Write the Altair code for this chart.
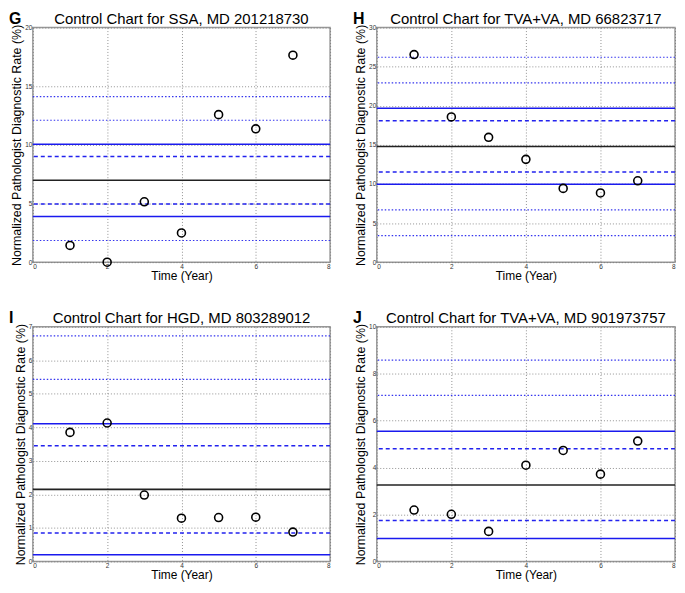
import altair as alt
import pandas as pd

years = [1, 2, 3, 4, 5, 6, 7]

# Panel G
g_rate = [1.43, 0.0, 5.15, 2.49, 12.58, 11.37, 17.65]
g_center = [6.98]
g_solid = [10.05, 3.9]
g_dashed = [9.02, 4.96]
g_dotted = [14.12, 12.1, 1.85]

# Panel H
h_rate = [26.55, 18.58, 15.97, 13.15, 9.44, 8.85, 10.41]
h_center = [14.8]
h_solid = [19.68, 9.97]
h_dashed = [18.08, 11.55]
h_dotted = [26.21, 22.92, 6.70, 3.41]

# Panel I
i_rate = [3.85, 4.13, 1.98, 1.29, 1.31, 1.32, 0.875]
i_center = [2.15]
i_solid = [4.11, 0.20]
i_dashed = [3.45, 0.85]
i_dotted = [6.73, 5.43]

# Panel J
j_rate = [2.19, 2.01, 1.28, 4.10, 4.73, 3.72, 5.13]
j_center = [3.26]
j_solid = [5.55, 0.98]
j_dashed = [4.80, 1.74]
j_dotted = [8.58, 7.08]

x_ticks = [0, 2, 4, 6, 8]

H = 236
FONT = "Liberation Sans"
YTITLE = "Normalized Pathologist Diagnostic Rate (%)"


def panel(letter, title, rate, center, solid, dashed, dotted, ymax, ystep, w):
    yticks = list(range(0, ymax + 1, ystep))
    xs = alt.Scale(domain=[0, 8], nice=False)
    ys = alt.Scale(domain=[0, ymax], nice=False)
    yaxis = alt.Axis(values=yticks, format="d", titleFontSize=12.5)
    pts = pd.DataFrame({"year": years, "rate": rate})

    def rules(vals, color, dash, sw):
        df = pd.DataFrame({"v": vals})
        kw = dict(color=color, strokeWidth=sw)
        if dash:
            kw["strokeDash"] = dash
        return alt.Chart(df).mark_rule(**kw).encode(
            y=alt.Y("v:Q", scale=ys, title=YTITLE, axis=yaxis)
        )

    base = alt.Chart(pts).mark_point(
        shape="circle", filled=False, color="black", size=64, strokeWidth=1.6, opacity=1
    ).encode(
        x=alt.X("year:Q", scale=xs, title="Time (Year)",
                axis=alt.Axis(values=x_ticks, format="d")),
        y=alt.Y("rate:Q", scale=ys, title=YTITLE, axis=yaxis),
    )

    lab = alt.Chart(pd.DataFrame({"t": [letter]})).mark_text(
        fontSize=16, fontWeight="bold", font=FONT, align="left", baseline="top",
        color="black"
    ).encode(text="t:N", x=alt.value(-24), y=alt.value(-17))

    layers = [
        rules(dotted, "#3333ee", [1.5, 2], 1.2),
        rules(dashed, "#2222ee", [4, 3], 1.5),
        rules(solid, "#1a1aee", None, 1.6),
        rules(center, "#222222", None, 1.6),
        base,
        lab,
    ]
    return alt.layer(*layers).properties(
        width=w, height=H,
        title=alt.TitleParams(title, fontSize=15, font=FONT, fontWeight="normal",
                              offset=-16, color="black"),
    )


g = panel("G", "Control Chart for SSA, MD 201218730", g_rate, g_center, g_solid, g_dashed, g_dotted, 20, 5, 299)
h = panel("H", "Control Chart for TVA+VA, MD 66823717", h_rate, h_center, h_solid, h_dashed, h_dotted, 30, 5, 300)
i = panel("I", "Control Chart for HGD, MD 803289012", i_rate, i_center, i_solid, i_dashed, i_dotted, 7, 1, 299)
j = panel("J", "Control Chart for TVA+VA, MD 901973757", j_rate, j_center, j_solid, j_dashed, j_dotted, 10, 2, 300)

chart = alt.vconcat(
    alt.hconcat(g, h, spacing=20),
    alt.hconcat(i, j, spacing=20),
    spacing=26,
).properties(padding=0, background="white").configure_axis(
    labelFont=FONT, titleFont=FONT, labelFontSize=6.5, titleFontSize=12,
    labelColor="#333", titleColor="black", titleFontWeight="normal",
    gridColor="#777", gridDash=[1, 2], gridWidth=0.8, gridOpacity=1,
    domain=False, ticks=False, tickSize=0, labelPadding=1, titlePadding=1,
).configure_view(stroke="#999", strokeWidth=1.5)

chart.save("out.html", embed_options={"renderer": "svg", "actions": False})
